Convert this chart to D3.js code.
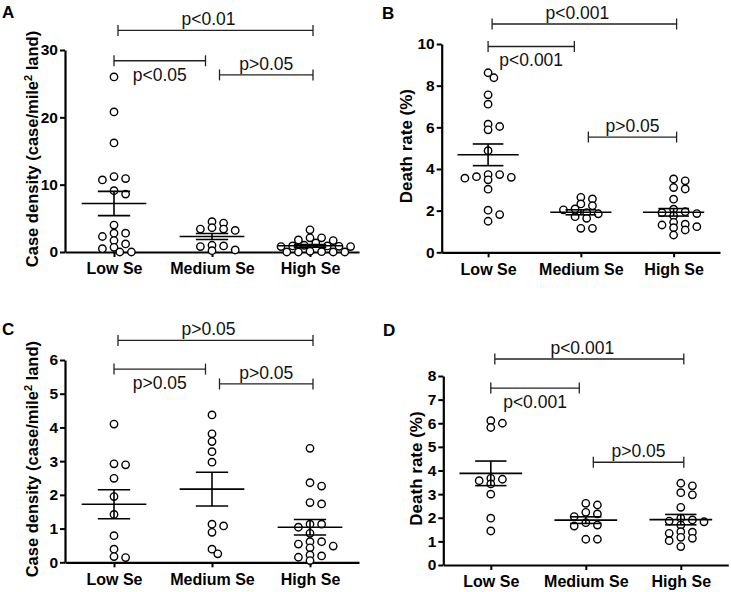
<!DOCTYPE html>
<html><head><meta charset="utf-8">
<script src="https://cdn.jsdelivr.net/npm/d3@7"></script>
<style>
body{margin:0;background:#fff}
svg{display:block}
text{font-family:"Liberation Sans",Arial,Helvetica,sans-serif}
</style>
</head><body>
<svg id="chart" width="731" height="592"></svg>
<script>
// ---------- DATA ----------
const categories = ["Low Se", "Medium Se", "High Se"];

// Panel A: case density
const caseLowA  = [26.0, 20.8, 16.2, 11.2, 10.9, 10.7, 9.1, 8.6, 4.0, 2.8, 2.8, 2.3, 1.7, 1.2, 0.7, 0.5, 0.0, 0.0];
const caseMedA  = [4.5, 4.3, 3.6, 3.4, 3.4, 3.2, 1.0, 0.9, 0.8, 0.3, 0.2];
const caseHighA = [3.3, 2.1, 2.1, 1.8, 1.7, 1.35, 1.0, 0.9, 0.9, 0.85, 0.8, 0.8, 0.1, 0.05, 0.0, 0.0, 0.0, 0.0];
const meansA = [7.2, 2.3, 0.92];
const semsA  = [1.8, 0.45, 0.2];
const ticksA = [0, 10, 20, 30];
const pLabelsA = ["p<0.01", "p<0.05", "p>0.05"];

// Panel B: death rate
const deathLowB  = [8.62, 8.38, 7.56, 7.11, 6.15, 6.04, 5.88, 4.88, 3.73, 3.73, 3.63, 3.60, 3.56, 3.48, 3.03, 2.02, 1.81, 1.49];
const deathMedB  = [2.64, 2.56, 2.32, 2.24, 2.08, 2.04, 1.90, 1.85, 1.71, 1.63, 1.15, 1.15];
const deathHighB = [3.52, 3.43, 3.11, 3.04, 2.55, 2.07, 1.95, 1.90, 1.86, 1.76, 1.44, 1.35, 1.31, 1.23, 1.18, 1.07, 0.83];
const meansB = [4.68, 1.92, 1.92];
const semsB  = [0.52, 0.12, 0.18];
const ticksB = [0, 2, 4, 6, 8, 10];
const pLabelsB = ["p<0.001", "p<0.001", "p>0.05"];

// Panel C: case density
const caseLowC  = [4.10, 2.92, 2.89, 2.49, 1.95, 1.42, 0.79, 0.39, 0.17, 0.14];
const caseMedC  = [4.37, 3.81, 3.58, 3.28, 2.97, 1.13, 1.08, 0.89, 0.39, 0.25];
const caseHighC = [3.38, 2.36, 2.26, 1.77, 1.73, 1.13, 1.13, 1.04, 0.86, 0.61, 0.61, 0.54, 0.48, 0.43, 0.22, 0.19, 0.15, 0.05];
const meansC = [1.72, 2.17, 1.04];
const semsC  = [0.43, 0.50, 0.23];
const ticksC = [0, 1, 2, 3, 4, 5, 6];
const pLabelsC = ["p>0.05", "p>0.05", "p>0.05"];

// Panel D: death rate
const deathLowD  = [6.11, 6.00, 5.82, 3.67, 3.63, 3.57, 3.43, 3.00, 1.98, 1.44];
const deathMedD  = [2.61, 2.54, 2.23, 2.16, 2.05, 1.79, 1.69, 1.65, 1.09, 1.09];
const deathHighD = [3.46, 3.35, 3.06, 2.97, 2.44, 1.98, 1.91, 1.86, 1.83, 1.69, 1.41, 1.39, 1.34, 1.17, 1.13, 1.03, 0.78];
const meansD = [3.88, 1.90, 1.92];
const semsD  = [0.52, 0.14, 0.22];
const ticksD = [0, 1, 2, 3, 4, 5, 6, 7, 8];
const pLabelsD = ["p<0.001", "p<0.001", "p>0.05"];

// bracket comparisons: [from, to]
const comparisons = [[0, 2], [0, 1], [1, 2]];

// ---------- LAYOUT ----------
const panels = [
  {letter:"A", lx:2, ly:18, xr:[65,359], yr:[252,50], dom:[0,30], ticks:ticksA, title:"case", tx:38,
   groups:[caseLowA, caseMedA, caseHighA], means:meansA, sems:semsA, levels:[32.9,28.4,26.3], labels:pLabelsA},
  {letter:"B", lx:382, ly:18.5, xr:[441.7,720], yr:[252.3,44], dom:[0,10], ticks:ticksB, title:"death", tx:411.5,
   groups:[deathLowB, deathMedB, deathHighB], means:meansB, sems:semsB, levels:[10.96,9.88,5.53], labels:pLabelsB},
  {letter:"C", lx:2, ly:335, xr:[65,359], yr:[562.3,360], dom:[0,6], ticks:ticksC, title:"case", tx:38,
   groups:[caseLowC, caseMedC, caseHighC], means:meansC, sems:semsC, levels:[6.58,5.73,5.29], labels:pLabelsC},
  {letter:"D", lx:383, ly:335.5, xr:[443.3,728.3], yr:[565,376], dom:[0,8], ticks:ticksD, title:"death", tx:421.5,
   groups:[deathLowD, deathMedD, deathHighD], means:meansD, sems:semsD, levels:[8.72,7.49,4.35], labels:pLabelsD}
];

const svg = d3.select("#chart");

// GraphPad-like scatter arrangement: half-step columns, elliptical clearance
function swarm(values, cx, y, step, rx, ry) {
  const order = values.map((v, i) => i).sort((a, b) => values[b] - values[a]);
  const placed = [];
  const out = new Array(values.length);
  order.forEach(i => {
    const py = y(values[i]);
    for (let k = 0; k < 80; k++) {
      const m = k === 0 ? 0 : (k % 2 === 1 ? Math.ceil(k / 2) : -k / 2);
      const px = cx + m * step;
      if (placed.every(p => ((p.x - px) / rx) ** 2 + ((p.y - py) / ry) ** 2 >= 1)) {
        placed.push({x: px, y: py});
        out[i] = {x: px, y: py, v: values[i]};
        break;
      }
    }
  });
  return out;
}

panels.forEach(P => {
  const g = svg.append("g");
  const x = d3.scalePoint().domain(categories).range(P.xr).padding(0.5);
  const y = d3.scaleLinear().domain(P.dom).range(P.yr);
  const band = x.step();

  g.append("text").attr("x", P.lx).attr("y", P.ly)
    .attr("font-size", 17).attr("font-weight", "bold").text(P.letter);

  const ya = g.append("g").attr("transform", `translate(${P.xr[0]},0)`)
    .call(d3.axisLeft(y).tickValues(P.ticks).tickSize(5).tickSizeOuter(0).tickPadding(2).tickFormat(d3.format("d")));
  ya.select(".domain").attr("stroke", "#000").attr("stroke-width", 2.2);
  ya.selectAll(".tick line").attr("stroke", "#000").attr("stroke-width", 2);
  ya.selectAll(".tick text").attr("font-size", 15.5).attr("font-weight", "bold")
    .attr("font-family", "Liberation Sans, Arial, sans-serif").attr("fill", "#000");

  const xa = g.append("g").attr("transform", `translate(0,${P.yr[0]})`)
    .call(d3.axisBottom(x).tickSize(5).tickSizeOuter(0).tickPadding(6));
  xa.select(".domain").attr("stroke", "#000").attr("stroke-width", 2.2);
  xa.selectAll(".tick line").attr("stroke", "#000").attr("stroke-width", 2);
  xa.selectAll(".tick text").attr("font-size", 16).attr("font-weight", "bold")
    .attr("font-family", "Liberation Sans, Arial, sans-serif").attr("fill", "#000");

  const cy = (P.yr[0] + P.yr[1]) / 2 - 2;
  const t = g.append("text").attr("transform", `translate(${P.tx},${cy}) rotate(-90)`)
    .attr("text-anchor", "middle").attr("font-weight", "bold").attr("font-size", P.title === "case" ? 16.5 : 17);
  if (P.title === "case") {
    t.append("tspan").text("Case density (case/mile");
    t.append("tspan").attr("dy", -6).attr("font-size", 11).text("2");
    t.append("tspan").attr("dy", 6).text(" land)");
  } else {
    t.text("Death rate (%)");
  }

  P.groups.forEach((vals, gi) => {
    const cx = x(categories[gi]);
    const pts = swarm(vals, cx, y, 5.8, 11, 5.2);
    g.append("g").selectAll("circle").data(pts).join("circle")
      .attr("cx", d => d.x).attr("cy", d => d.y).attr("r", 3.7)
      .attr("fill", "#fff").attr("stroke", "#000").attr("stroke-width", 1.4);
  });

  P.means.forEach((m, gi) => {
    const cx = x(categories[gi]);
    const s = P.sems[gi];
    const hw = band * 0.33, cw = band * 0.165;
    const lg = g.append("g").attr("stroke", "#000").attr("stroke-width", 1.6);
    lg.append("line").attr("x1", cx - hw).attr("x2", cx + hw).attr("y1", y(m)).attr("y2", y(m));
    lg.append("line").attr("x1", cx).attr("x2", cx).attr("y1", y(m + s)).attr("y2", y(m - s));
    lg.append("line").attr("x1", cx - cw).attr("x2", cx + cw).attr("y1", y(m + s)).attr("y2", y(m + s));
    lg.append("line").attr("x1", cx - cw).attr("x2", cx + cw).attr("y1", y(m - s)).attr("y2", y(m - s));
  });

  const endAdj = [[4, 3], [0, -6.5], [7.5, 3]];
  const textDx = [-7, 0, 0];
  comparisons.forEach((c, i) => {
    const x1 = x(categories[c[0]]) + endAdj[i][0];
    const x2 = x(categories[c[1]]) + endAdj[i][1];
    const ly = y(P.levels[i]);
    const bg = g.append("g").attr("stroke", "#222").attr("stroke-width", 1.3);
    bg.append("line").attr("x1", x1).attr("x2", x2).attr("y1", ly).attr("y2", ly);
    bg.append("line").attr("x1", x1).attr("x2", x1).attr("y1", ly - 5.5).attr("y2", ly + 5.5);
    bg.append("line").attr("x1", x2).attr("x2", x2).attr("y1", ly - 5.5).attr("y2", ly + 5.5);
    const below = i === 1;
    g.append("text").attr("x", (x1 + x2) / 2 + textDx[i]).attr("y", below ? ly + 20 : ly - 5)
      .attr("text-anchor", "middle").attr("font-size", 17.5).attr("fill", "#111").text(P.labels[i]);
  });
});
</script>
</body></html>
